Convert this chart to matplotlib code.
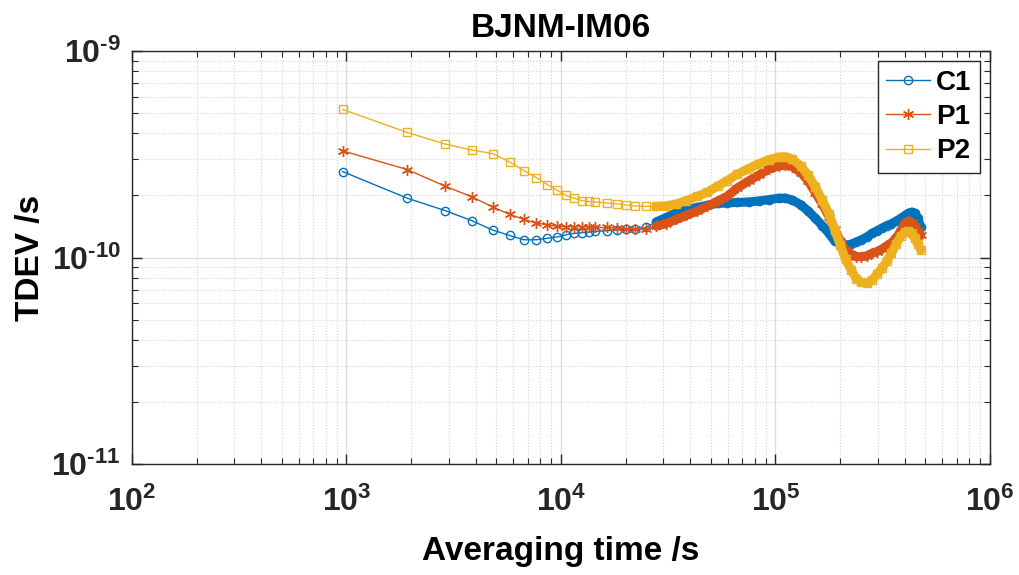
import matplotlib
matplotlib.use('Agg')
import matplotlib.pyplot as plt
import numpy as np
from matplotlib.ticker import LogLocator, NullFormatter, FixedLocator, FixedFormatter

plt.rcParams['font.family'] = ['Liberation Sans', 'DejaVu Sans']
plt.rcParams['font.weight'] = 'bold'
plt.rcParams['mathtext.fontset'] = 'custom'
plt.rcParams['mathtext.rm'] = 'Liberation Sans:bold'
plt.rcParams['mathtext.bf'] = 'Liberation Sans:bold'
plt.rcParams['mathtext.default'] = 'bf'

################################################################################
# DATA
################################################################################
tau = [960, 1920, 2880, 3840, 4800, 5760, 6720, 7680, 8640, 9600,
       10560, 11520, 12480, 13440, 14400, 16320, 18240, 20160, 22080, 24960,
       27840, 30720, 34560, 38400, 43200, 48000, 53760, 59520, 66240, 74880,
       83520, 93120, 103680, 111360, 120000, 131520, 142080, 153600, 165120, 177600,
       189120, 200640, 212160, 225600, 238080, 251520, 266880, 282240, 297600, 313920,
       330240, 347520, 364800, 384000, 403200, 416640, 431040, 446400, 460800, 476160]

c1 = [2.61, 1.94, 1.69, 1.51, 1.36, 1.28, 1.22, 1.22, 1.24, 1.26,
      1.29, 1.31, 1.32, 1.33, 1.34, 1.35, 1.36, 1.37, 1.38, 1.40,
      1.49, 1.56, 1.65, 1.71, 1.75, 1.79, 1.83, 1.84, 1.85, 1.86,
      1.88, 1.91, 1.94, 1.94, 1.90, 1.80, 1.68, 1.55, 1.43, 1.31,
      1.20, 1.17, 1.15, 1.16, 1.19, 1.22, 1.26, 1.31, 1.35, 1.39,
      1.43, 1.46, 1.50, 1.55, 1.60, 1.64, 1.66, 1.64, 1.55, 1.40]

p1 = [3.29, 2.67, 2.22, 1.97, 1.76, 1.62, 1.53, 1.47, 1.44, 1.42,
      1.41, 1.41, 1.41, 1.41, 1.40, 1.40, 1.39, 1.38, 1.37, 1.37,
      1.42, 1.46, 1.53, 1.60, 1.68, 1.77, 1.88, 1.98, 2.17, 2.35,
      2.51, 2.68, 2.78, 2.81, 2.76, 2.58, 2.35, 2.06, 1.82, 1.58,
      1.37, 1.20, 1.09, 1.04, 1.01, 1.01, 1.02, 1.05, 1.07, 1.10,
      1.14, 1.18, 1.24, 1.35, 1.47, 1.50, 1.48, 1.42, 1.35, 1.28]

p2 = [5.22, 4.04, 3.55, 3.32, 3.19, 2.91, 2.64, 2.44, 2.26, 2.12,
      2.00, 1.94, 1.89, 1.87, 1.86, 1.84, 1.82, 1.80, 1.78, 1.77,
      1.77, 1.78, 1.82, 1.89, 1.98, 2.07, 2.22, 2.36, 2.53, 2.70,
      2.85, 2.98, 3.07, 3.08, 3.00, 2.77, 2.50, 2.20, 1.90, 1.63,
      1.36, 1.15, 0.98, 0.87, 0.79, 0.76, 0.75, 0.78, 0.83, 0.89,
      0.96, 1.05, 1.16, 1.27, 1.33, 1.34, 1.31, 1.24, 1.16, 1.09]

labels = ['C1', 'P1', 'P2']
markers = ['o', (6, 2, 0), 's']
colors = ['#0072BD', '#D95319', '#EDB120']
marker_sizes = [6, 8, 5.5]

x_ticks = [1e2, 1e3, 1e4, 1e5, 1e6]
x_tick_labels = [r'$10^{2}$', r'$10^{3}$', r'$10^{4}$', r'$10^{5}$', r'$10^{6}$']
y_ticks = [1e-11, 1e-10, 1e-9]
y_tick_labels = [r'$10^{\text{-}11}$', r'$10^{\text{-}10}$', r'$10^{\text{-}9}$']

################################################################################
# PLOT
################################################################################
fig = plt.figure(figsize=(10.19, 5.75), dpi=100)
ax = fig.add_axes([0.1295, 0.193, 0.842, 0.718])

tau_arr = np.array(tau)
dense = tau_arr >= 27000

for vals, lab, mk, col, ms in zip([c1, p1, p2], labels, markers, colors, marker_sizes):
    y = np.array(vals) * 1e-10
    # the dense part of the MATLAB curve shows up as a thick band of markers
    ax.plot(tau_arr[dense], y[dense], '-', color=col, lw=6.5, solid_capstyle='round')
    ax.plot(tau_arr, y, '-', color=col, lw=1.0, marker=mk, markersize=ms,
            markerfacecolor='none', markeredgewidth=1.0, label=lab)

ax.set_xscale('log')
ax.set_yscale('log')
ax.set_xlim(1e2, 1e6)
ax.set_ylim(1e-11, 1e-9)

ax.xaxis.set_major_locator(FixedLocator(x_ticks))
ax.xaxis.set_major_formatter(FixedFormatter(x_tick_labels))
ax.yaxis.set_major_locator(FixedLocator(y_ticks))
ax.yaxis.set_major_formatter(FixedFormatter(y_tick_labels))
ax.xaxis.set_minor_locator(LogLocator(base=10, subs=np.arange(2, 10), numticks=20))
ax.yaxis.set_minor_locator(LogLocator(base=10, subs=np.arange(2, 10), numticks=20))
ax.xaxis.set_minor_formatter(NullFormatter())
ax.yaxis.set_minor_formatter(NullFormatter())

ax.grid(True, which='major', color='#dcdcdc', lw=0.9, ls='-')
ax.grid(True, which='minor', color='#d4d4d4', lw=0.8, ls=':')
ax.set_axisbelow(True)

ax.tick_params(which='both', direction='in', top=True, right=True, colors='#262626')
ax.tick_params(which='major', length=7, width=1.0, labelsize=23)
ax.tick_params(axis='x', which='major', pad=16)
ax.tick_params(axis='y', which='major', pad=8)
ax.tick_params(which='minor', length=4, width=0.8)
for sp in ax.spines.values():
    sp.set_color('#262626')
    sp.set_linewidth(1.0)

ax.set_title('BJNM-IM06', fontsize=24, fontweight='bold', pad=10)
ax.set_xlabel('Averaging time /s', fontsize=24, fontweight='bold', labelpad=13)
ax.set_ylabel('TDEV /s', fontsize=24, fontweight='bold', labelpad=4)

leg = ax.legend(loc='upper right', bbox_to_anchor=(0.988, 0.975), borderaxespad=0,
                fontsize=20, handlelength=1.6, handletextpad=0.2, labelspacing=0.3,
                borderpad=0.3, fancybox=False, framealpha=1)
leg.get_frame().set_edgecolor('#262626')
leg.get_frame().set_linewidth(1.0)
for t in leg.get_texts():
    t.set_fontweight('bold')

fig.savefig('out.png', dpi=100)
